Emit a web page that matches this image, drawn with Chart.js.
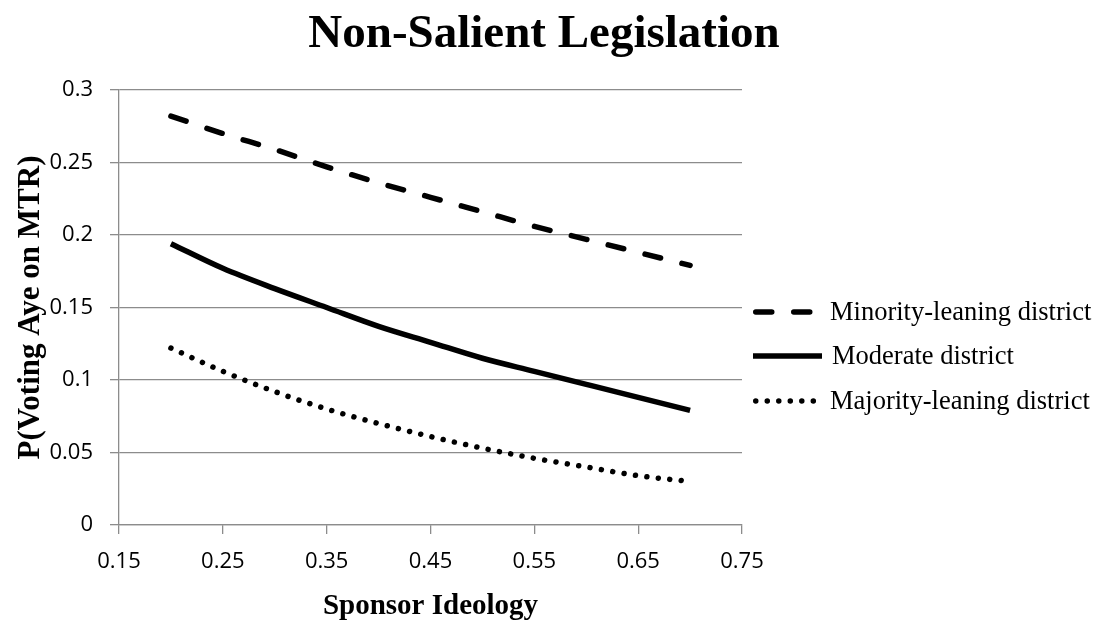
<!DOCTYPE html>
<html>
<head>
<meta charset="utf-8">
<script src="https://cdn.jsdelivr.net/npm/chart.js@4"></script>
<style>
  html, body { margin: 0; padding: 0; background: #fff; }
  #wrap { width: 1102px; height: 635px; position: relative; }
</style>
</head>
<body>
<div id="wrap"><canvas id="c" width="1102" height="635"></canvas></div>
<script>
// ---- data ----
const chartTitle = "Non-Salient Legislation";
const xTitle = "Sponsor Ideology";
const yTitle = "P(Voting Aye on MTR)";
const ideology = [0.20, 0.25, 0.30, 0.35, 0.40, 0.45, 0.50, 0.55, 0.60, 0.65, 0.70];
const minority = [0.282, 0.270, 0.259, 0.247, 0.236, 0.226, 0.216, 0.206, 0.197, 0.188, 0.179];
const moderate = [0.194, 0.177, 0.163, 0.150, 0.137, 0.126, 0.115, 0.106, 0.097, 0.088, 0.079];
const majority = [0.122, 0.106, 0.092, 0.080, 0.070, 0.061, 0.053, 0.046, 0.040, 0.034, 0.030];
const seriesNames = ["Minority-leaning district", "Moderate district", "Majority-leaning district"];
const xTicks = [0.15, 0.25, 0.35, 0.45, 0.55, 0.65, 0.75];
const yTicks = [0, 0.05, 0.1, 0.15, 0.2, 0.25, 0.3];

const pts = arr => arr.map((v, i) => ({ x: ideology[i], y: v }));
const GRID = '#8c8c8c';
const TICK_FONT = { family: "'Open Sans', 'Liberation Sans', sans-serif", size: 22 };
const SERIF = "'Liberation Serif', 'Times New Roman', serif";

const titleLegendPlugin = {
  id: 'titleLegend',
  afterDraw(chart) {
    const ctx = chart.ctx;
    ctx.save();
    // title
    ctx.fillStyle = '#000';
    ctx.font = 'bold 47px ' + SERIF;
    ctx.textAlign = 'center';
    ctx.textBaseline = 'alphabetic';
    ctx.fillText(chartTitle, 544, 47);
    // legend
    const x0 = 753, x1 = 818, tx = 830;
    const ys = [312, 356, 401];
    chart.data.datasets.forEach((ds, i) => {
      const y = ys[i];
      ctx.beginPath();
      ctx.strokeStyle = ds.borderColor;
      ctx.lineWidth = ds.borderWidth;
      ctx.lineCap = ds.borderCapStyle || 'butt';
      ctx.setLineDash(ds.borderDash || []);
      if (ds.borderCapStyle === 'round') {
        ctx.moveTo(x0 + ds.borderWidth / 2, y);
        ctx.lineTo(x1 - ds.borderWidth / 2 + 1, y);
      } else {
        ctx.moveTo(x0, y);
        ctx.lineTo(x1 + 4, y);
      }
      ctx.stroke();
      ctx.setLineDash([]);
      ctx.fillStyle = '#000';
      ctx.font = '26.5px ' + SERIF;
      ctx.textAlign = 'left';
      ctx.textBaseline = 'middle';
      ctx.fillText(ds.label, i === 1 ? tx + 2 : tx, y + 1);
    });
    ctx.restore();
  }
};

new Chart(document.getElementById('c'), {
  type: 'line',
  data: {
    datasets: [
      { label: seriesNames[0], data: pts(minority), borderColor: '#000', borderWidth: 5.5,
        borderDash: [16, 22], borderCapStyle: 'round', pointRadius: 0, tension: 0.4, cubicInterpolationMode: 'monotone' },
      { label: seriesNames[1], data: pts(moderate), borderColor: '#000', borderWidth: 5.5,
        borderCapStyle: 'butt', pointRadius: 0, tension: 0.4, cubicInterpolationMode: 'monotone' },
      { label: seriesNames[2], data: pts(majority), borderColor: '#000', borderWidth: 5.5,
        borderDash: [0.01, 11.5], borderCapStyle: 'round', pointRadius: 0, tension: 0.4, cubicInterpolationMode: 'monotone' }
    ]
  },
  options: {
    responsive: false,
    animation: false,
    layout: { padding: { top: 90, right: 360, left: 0, bottom: 0 } },
    plugins: { legend: { display: false }, title: { display: false }, tooltip: { enabled: false } },
    scales: {
      x: {
        type: 'linear', min: 0.15, max: 0.75,
        afterBuildTicks: s => { s.ticks = xTicks.map(v => ({ value: v })); },
        afterFit: s => { s.height = 110; },
        grid: { display: true, drawOnChartArea: false, drawTicks: true, tickLength: 9, color: GRID, lineWidth: 1.3 },
        border: { display: true, color: GRID, width: 1.3 },
        ticks: { font: TICK_FONT, color: '#000', padding: 15, maxRotation: 0, autoSkip: false,
                 callback: v => Number(v).toFixed(2) },
        title: { display: true, text: xTitle, color: '#000',
                 font: { family: SERIF, size: 29, weight: 'bold' }, padding: { top: 0, bottom: 11 } }
      },
      y: {
        type: 'linear', min: 0, max: 0.3,
        afterBuildTicks: s => { s.ticks = yTicks.map(v => ({ value: v })); },
        afterFit: s => { s.width = 119; },
        grid: { display: true, drawOnChartArea: true, drawTicks: true, tickLength: 9, color: GRID, lineWidth: 1.3 },
        border: { display: true, color: GRID, width: 1.3 },
        ticks: { font: TICK_FONT, color: '#000', padding: 17,
                 callback: v => String(+Number(v).toFixed(2)) },
        title: { display: true, text: yTitle, color: '#000',
                 font: { family: SERIF, size: 31, weight: 'bold' }, padding: { top: 12, bottom: 0 } }
      }
    }
  },
  plugins: [titleLegendPlugin]
});
</script>
</body>
</html>
